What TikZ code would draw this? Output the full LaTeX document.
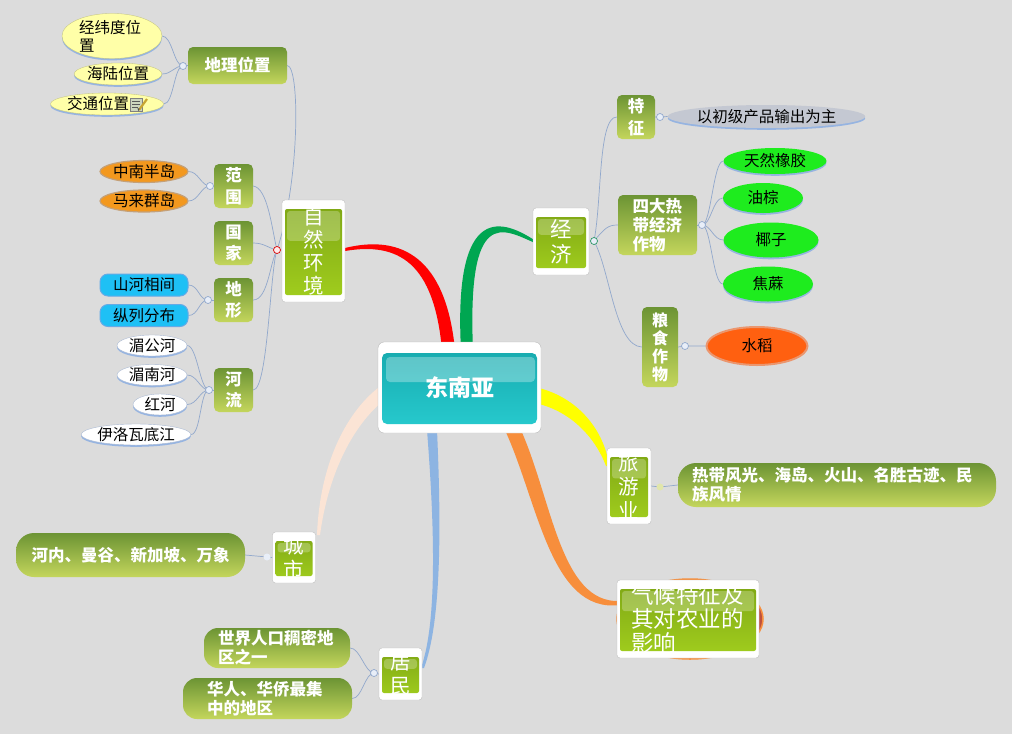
\documentclass[tikz,border=0pt]{standalone}
\usepackage{fontspec}
\setmainfont{Noto Sans CJK SC}
\usetikzlibrary{shapes.geometric,shadows,calc}
\pgfdeclarelayer{back}
\pgfsetlayers{back,main}
\newcommand\myfs[2]{\fontsize{#1}{#2}\selectfont}
\definecolor{bgc}{RGB}{220,220,220}
\definecolor{lnc}{RGB}{145,168,204}
\definecolor{subtop}{RGB}{108,148,52}
\definecolor{subbot}{RGB}{196,214,92}
\definecolor{mgtop}{RGB}{125,165,20}
\definecolor{mgbot}{RGB}{162,207,30}
\definecolor{yel}{RGB}{255,255,168}
\definecolor{shad}{RGB}{150,180,225}
\definecolor{org}{RGB}{243,152,30}
\definecolor{orgb}{RGB}{196,160,120}
\definecolor{cyanb}{RGB}{30,192,245}
\definecolor{cyand}{RGB}{100,170,230}
\definecolor{leafg}{RGB}{30,236,30}
\definecolor{grayleaf}{RGB}{196,200,210}
\definecolor{rice}{RGB}{255,96,16}
\definecolor{riceb}{RGB}{235,150,110}
\definecolor{tealtop}{RGB}{22,168,172}
\definecolor{tealbot}{RGB}{40,204,208}
\definecolor{brred}{RGB}{255,0,0}
\definecolor{brgreen}{RGB}{0,166,81}
\definecolor{bryellow}{RGB}{255,255,0}
\definecolor{brorange}{RGB}{247,142,60}
\definecolor{brblue}{RGB}{141,180,226}
\definecolor{brpeach}{RGB}{251,228,213}
\definecolor{qhback}{RGB}{190,80,60}
\definecolor{ringfill}{RGB}{232,238,248}
\definecolor{dotfill}{RGB}{225,230,170}
\definecolor{notec}{RGB}{205,214,190}
\definecolor{pencil}{RGB}{200,165,50}
\definecolor{wleafb}{RGB}{170,185,210}
\definecolor{ecor}{RGB}{40,150,100}
\tikzset{
  sz/.style 2 args={minimum width=#1pt, minimum height=#2pt},
  lnk/.style={draw=lnc, line width=.7pt},
  jring/.style={circle, draw=lnc, fill=ringfill, line width=.7pt, minimum size=7pt, inner sep=0pt},
  jdot/.style={circle, fill=dotfill, minimum size=7pt, inner sep=0pt},
  subbox/.style={rectangle, rounded corners=5pt, top color=subtop, bottom color=subbot, text=white,
    font=\bfseries\myfs{16.5}{21.5}, inner sep=0pt, align=center},
  leafbox/.style={subbox, rounded corners=18pt, font=\bfseries\myfs{16.5}{19}, align=left},
  mainbox/.style={rectangle, rounded corners=3pt, fill=white, draw=gray!50, line width=.4pt,
    inner sep=0pt, text=white, align=center,
    path picture={
      \fill[top color=mgtop, bottom color=mgbot, rounded corners=2pt]
        ([shift={(3pt,-9pt)}]path picture bounding box.north west) rectangle
        ([shift={(-3pt,7pt)}]path picture bounding box.south east);
      \fill[white, opacity=.25]
        ([shift={(5pt,-11pt)}]path picture bounding box.north west) rectangle
        ($(path picture bounding box.north east)!0.4!(path picture bounding box.south east)+(-5pt,0pt)$);
    }},
  centerbox/.style={rectangle, rounded corners=6pt, fill=white, draw=gray!55, line width=.4pt,
    inner sep=0pt, text=white, font=\bfseries\myfs{23}{27},
    path picture={
      \fill[top color=tealtop, bottom color=tealbot, rounded corners=5pt]
        ([shift={(4pt,-11pt)}]path picture bounding box.north west) rectangle
        ([shift={(-4pt,9pt)}]path picture bounding box.south east);
      \fill[white, opacity=.3, rounded corners=4pt]
        ([shift={(8pt,-15pt)}]path picture bounding box.north west) rectangle
        ([shift={(-6pt,-40pt)}]path picture bounding box.north east);
    }},
  ell/.style={ellipse, inner sep=0pt, font=\myfs{15.5}{18}, text=black,
    drop shadow={shadow xshift=0pt, shadow yshift=-1.8pt, fill=shad, opacity=1}},
  yleaf/.style={ell, fill=yel, draw=yel!75!black, line width=.3pt},
  oleaf/.style={ellipse, inner sep=0pt, font=\myfs{15.5}{18}, text=black, fill=org, draw=orgb, line width=1.2pt},
  cleaf/.style={rectangle, rounded corners=8pt, inner sep=0pt, font=\myfs{15.5}{18}, text=black, fill=cyanb, draw=cyand, line width=1pt},
  wleaf/.style={ell, fill=white, draw=wleafb, line width=.4pt},
  gleaf/.style={ell, fill=leafg},
}
\begin{document}
\begin{tikzpicture}[x=1pt,y=-1pt]
\begin{pgfonlayer}{back}
\fill[bgc] (0,0) rectangle (1012,734);
\end{pgfonlayer}
\useasboundingbox (0,0) rectangle (1012,734);

% ---------- centre ----------
\node[centerbox, sz={163}{91}] (root) at (459.5,387.5) {东南亚};

% ---------- main nodes ----------
\node[mainbox, sz={63}{102}, font=\myfs{20.5}{23}] (zrhj) at (313.5,251) {自\\然\\环\\境};
\node[mainbox, sz={56}{67}, font=\myfs{21.5}{25}] (jj) at (561,241.5) {经\\济};
\node[mainbox, sz={44}{76}, font=\myfs{20.5}{24}] (lyy) at (629,486) {旅\\游\\业};
\node[mainbox, sz={142}{78}, font=\myfs{22.5}{24}, text width=114pt, align=left] (qh) at (688,619) {气候特征及\\其对农业的\\影响};
\node[mainbox, sz={43}{51}, font=\myfs{20.5}{24}] (cs) at (294,557.5) {城\\市};
\node[mainbox, sz={43}{52}, font=\myfs{20.5}{24}] (jmin) at (400.5,674) {居\\民};

% ---------- natural environment ----------
\node[subbox, sz={99}{37}] (dlwz) at (237.5,65.5) {地理位置};
\node[subbox, sz={39}{44}] (fw) at (233.5,186) {范\\围};
\node[subbox, sz={39}{44}] (gj) at (233.5,243) {国\\家};
\node[subbox, sz={39}{44}] (dx) at (233.5,300) {地\\形};
\node[subbox, sz={39}{44}] (hl) at (233.5,390) {河\\流};

\node[yleaf, sz={100}{38}, text width=66pt, align=left] (jwd) at (112,36) {经纬度位\\置};
\node[yleaf, sz={86}{22}] (hlwz) at (118,74) {海陆位置};
\node[yleaf, sz={106}{22}] (jtwz) at (107,104) {交通位置\kern18pt};
\node[oleaf, sz={88}{22}] (znbd) at (144,171.5) {中南半岛};
\node[oleaf, sz={88}{22}] (mlqd) at (144,201) {马来群岛};
\node[cleaf, sz={88}{22}] (shxj) at (144,285) {山河相间};
\node[cleaf, sz={88}{22}] (zlfb) at (144,315.5) {纵列分布};
\node[wleaf, sz={70}{21}] (mgh) at (152,345.5) {湄公河};
\node[wleaf, sz={70}{21}] (mnh) at (152,375) {湄南河};
\node[wleaf, sz={54}{21}] (hh) at (160,404.5) {红河};
\node[wleaf, sz={102}{21}] (ylw) at (136,434.5) {伊洛瓦底江};

% note icon
\filldraw[fill=notec, draw=gray] (130,98) rectangle (142,111);
\draw[gray!70!black, line width=.5pt] (132,101.5) -- (140,101.5) (132,104.5) -- (140,104.5) (132,107.5) -- (138,107.5);
\draw[pencil, line width=2.2pt] (139,110) -- (147,99);
\fill[black!70] (138.2,111.2) -- (139.8,108.6) -- (137.6,108.2) -- cycle;

\node[jring, draw=red!85!black, fill=red!8] (jz) at (277,250) {};
\node[jring] (j1) at (183,66) {};
\node[jring] (j2) at (210,186) {};
\node[jring] (j3) at (208,300) {};
\node[jring] (j4) at (209,390) {};

% ---------- economy ----------
\node[jring, draw=ecor] (je) at (594,241) {};
\node[subbox, sz={38}{44}] (tz) at (636,117) {特\\征};
\node[subbox, sz={79}{60}, text width=50pt, align=left, font=\bfseries\myfs{16.5}{19}] (sdzw) at (657.5,225) {四大热\\带经济\\作物};
\node[subbox, sz={36}{80}, font=\bfseries\myfs{16}{18}] (lszw) at (660,347) {粮\\食\\作\\物};
\node[jring] (j5) at (660,117) {};
\node[jring] (j6) at (702,225) {};
\node[jring] (j7) at (685,346) {};
\node[ell, sz={167}{23}, fill=grayleaf] (cjcp) at (766.5,116.5) {以初级产品输出为主};
\node[gleaf, sz={103}{26}] (trxj) at (775,161) {天然橡胶};
\node[gleaf, sz={80}{30}] (yzo) at (763,198) {油棕};
\node[gleaf, sz={95}{35}] (yzi) at (771,240) {椰子};
\node[gleaf, sz={90}{35}] (jmz) at (768,284) {焦蔴};
\node[ellipse, sz={101}{38}, inner sep=0pt, fill=rice, draw=riceb, line width=2pt, font=\myfs{15.5}{18}, text=black] (sdao) at (757,346) {水稻};

% ---------- tourism ----------
\node[jdot] (j8) at (660,487) {};
\node[leafbox, sz={318}{44}, text width=290pt] (lyleaf) at (837,485) {热带风光、海岛、火山、名胜古迹、民\\族风情};

% ---------- city ----------
\node[jdot, fill=ringfill] (j9) at (267,557) {};
\node[leafbox, sz={229}{44}, align=center] (hnleaf) at (130.5,555) {河内、曼谷、新加坡、万象};

% ---------- residents ----------
\node[jring] (j10) at (374,673) {};
\node[leafbox, sz={146}{40}, rounded corners=14pt, text width=118pt] (sjrk) at (277,648) {世界人口稠密地\\区之一};
\node[leafbox, sz={169}{41}, rounded corners=14pt, text width=121pt] (hrhq) at (267.5,698.5) {华人、华侨最集\\中的地区};

\begin{pgfonlayer}{back}
  % orange disc behind climate node
  \draw[brorange, line width=1.5pt, fill=qhback] (690,619) ellipse [x radius=73pt, y radius=40pt];
  % tapered main branches
  \fill[brpeach] (378,388) .. controls (350,410) and (320,458) .. (317,535) -- (320,535) .. controls (330,462) and (360,420) .. (382,402) -- cycle;
  \fill[brred] (442,350) .. controls (434,262) and (398,242) .. (345,251) -- (345,248) .. controls (402,234) and (446,258) .. (455,350) -- cycle;
  \fill[brgreen] (461,350) .. controls (453,198) and (505,221) .. (535,240.5) -- (535,243) .. controls (503,229) and (467,205) .. (473,350) -- cycle;
  \fill[bryellow] (535,387) .. controls (584,398) and (606,438) .. (609,466) -- (606,466) .. controls (598,444) and (576,412) .. (535,403) -- cycle;
  \fill[brorange] (504,428) .. controls (538,500) and (550,614) .. (620,605) -- (620,601) .. controls (560,604) and (552,498) .. (520,428) -- cycle;
  \fill[brblue] (427,430) .. controls (434,520) and (438,620) .. (421,668) -- (424,668) .. controls (442,620) and (441,520) .. (437,430) -- cycle;

  % natural environment connectors
  \draw[lnk] (jz.center) .. controls (300,180) and (300,66) .. (dlwz.east);
  \draw[lnk] (jz.center) .. controls (272,230) and (268,188) .. (fw.east);
  \draw[lnk] (jz.center) .. controls (268,248) and (264,243) .. (gj.east);
  \draw[lnk] (jz.center) .. controls (270,262) and (268,300) .. (dx.east);
  \draw[lnk] (jz.center) .. controls (270,270) and (268,390) .. (hl.east);
  \draw[lnk] (j1.center) -- (dlwz.west);
  \draw[lnk] (j2.center) -- (fw.west);
  \draw[lnk] (j3.center) -- (dx.west);
  \draw[lnk] (j4.center) -- (hl.west);
  \foreach \t in {jwd,hlwz,jtwz} \draw[lnk] (j1.center) .. controls +(-9,0) and +(10,0) .. (\t.east);
  \foreach \t in {znbd,mlqd} \draw[lnk] (j2.center) .. controls +(-9,0) and +(10,0) .. (\t.east);
  \foreach \t in {shxj,zlfb} \draw[lnk] (j3.center) .. controls +(-9,0) and +(10,0) .. (\t.east);
  \foreach \t in {mgh,mnh,hh,ylw} \draw[lnk] (j4.center) .. controls +(-9,0) and +(10,0) .. (\t.east);

  % economy connectors
  \draw[lnk] (je.center) .. controls (602,200) and (598,117) .. (tz.west);
  \draw[lnk] (je.center) .. controls (605,228) and (608,225) .. (sdzw.west);
  \draw[lnk] (je.center) .. controls (610,270) and (615,346) .. (lszw.west);
  \draw[lnk] (tz.east) -- (j5.center) -- (cjcp.west);
  \draw[lnk] (sdzw.east) -- (j6.center);
  \foreach \t in {trxj,yzo,yzi,jmz} \draw[lnk] (j6.center) .. controls +(9,0) and +(-10,0) .. (\t.west);
  \draw[lnk] (lszw.east) -- (j7.center) -- (sdao.west);

  % tourism, city, residents
  \draw[lnk] (lyy.east) -- (j8.center) -- (lyleaf.west);
  \draw[lnk] (cs.west) -- (j9.center) -- (hnleaf.east);
  \draw[lnk] (jmin.west) -- (j10.center);
  \foreach \t in {sjrk,hrhq} \draw[lnk] (j10.center) .. controls +(-9,0) and +(10,0) .. (\t.east);
\end{pgfonlayer}
\end{tikzpicture}
\end{document}
